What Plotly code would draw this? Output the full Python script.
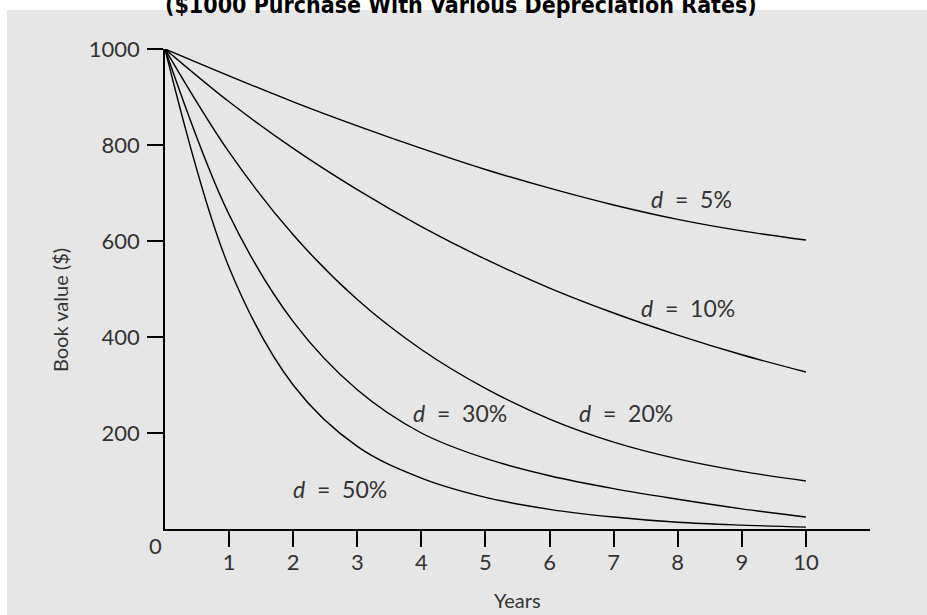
import plotly.graph_objects as go

# ---- data ----
years = [0, 1, 2, 3, 4, 5, 6, 7, 8, 9, 10]
value_d5 = [1000, 944, 890, 840, 793, 749, 710, 675, 645, 621, 602]
value_d10 = [1000, 890, 793, 707, 630, 562, 502, 450, 404, 363, 327]
value_d20 = [1000, 785, 613, 478, 374, 293, 229, 181, 146, 120, 100]
value_d30 = [1000, 655, 432, 290, 200, 147, 111, 84, 62, 42, 25]
value_d50 = [1000, 545, 300, 172, 106, 66, 41, 25, 14, 8, 4]

series = [value_d5, value_d10, value_d20, value_d30, value_d50]

label_texts = ["<i>d</i>&nbsp; =&nbsp; 5%", "<i>d</i>&nbsp; =&nbsp; 10%", "<i>d</i>&nbsp; =&nbsp; 20%",
               "<i>d</i>&nbsp; =&nbsp; 30%", "<i>d</i>&nbsp; =&nbsp; 50%"]
label_x = [8.22, 8.16, 7.19, 4.60, 2.73]
label_y = [687, 460, 242, 242, 83]

x_ticks = [1, 2, 3, 4, 5, 6, 7, 8, 9, 10]
y_ticks = [200, 400, 600, 800, 1000]

title_text = "<b>($1000 Purchase With Various Depreciation Rates)</b>"

FONT = "Lato, 'Open Sans', sans-serif"
TXT = "#333333"

fig = go.Figure()
for vals in series:
    fig.add_trace(go.Scatter(
        x=years, y=vals, mode="lines",
        line=dict(color="black", width=1.4, shape="spline", smoothing=1.0),
        showlegend=False, hoverinfo="skip", cliponaxis=False,
    ))

# gray panel background
fig.add_shape(type="rect", xref="paper", yref="paper",
              x0=(7 - 165) / 705, x1=(940 - 165) / 705,
              y0=(529 - 640) / 480, y1=(529 - 10) / 480,
              fillcolor="#e6e6e6", line=dict(width=0), layer="below")

for t, x, y in zip(label_texts, label_x, label_y):
    fig.add_annotation(x=x, y=y, text=t, showarrow=False,
                       font=dict(family=FONT, size=23, color=TXT),
                       xanchor="center", yanchor="middle")

# origin "0" label
fig.add_annotation(xref="paper", yref="paper", x=(155 - 165) / 705, y=(529 - 545) / 480,
                   text="0", showarrow=False, font=dict(family=FONT, size=22, color=TXT),
                   xanchor="center", yanchor="middle")
# axis titles
fig.add_annotation(xref="paper", yref="paper", x=0.5, y=(529 - 600) / 480,
                   text="Years", showarrow=False, font=dict(family=FONT, size=20, color=TXT),
                   xanchor="center", yanchor="middle")
fig.add_annotation(xref="paper", yref="paper", x=(60 - 165) / 705, y=(529 - 310) / 480,
                   text="Book value ($)", showarrow=False, textangle=-90,
                   font=dict(family=FONT, size=20, color=TXT),
                   xanchor="center", yanchor="middle")
# title (partly cut off at the top, as in the reference)
fig.add_annotation(xref="paper", yref="paper", x=(461 - 165) / 705, y=(529 - 20) / 480,
                   text=title_text, showarrow=False,
                   font=dict(family="'DejaVu Sans Condensed', 'Liberation Sans', sans-serif",
                             size=23, color="black"),
                   xanchor="center", yanchor="bottom")

fig.update_xaxes(range=[0, 11], tickvals=x_ticks, ticktext=[str(v) for v in x_ticks],
                 showline=True, linecolor="black", linewidth=1.5,
                 ticks="outside", ticklen=16, tickwidth=1.5, tickcolor="black",
                 showgrid=False, zeroline=False,
                 tickfont=dict(family=FONT, size=22, color=TXT), ticklabelstandoff=-3)
fig.update_yaxes(range=[0, 1000], tickvals=y_ticks, ticktext=[str(v) for v in y_ticks],
                 showline=True, linecolor="black", linewidth=1.5,
                 ticks="outside", ticklen=16, tickwidth=1.5, tickcolor="black",
                 showgrid=False, zeroline=False,
                 tickfont=dict(family=FONT, size=22, color=TXT), ticklabelstandoff=3)

fig.update_layout(width=927, height=615, autosize=False,
                  margin=dict(l=165, r=57, t=49, b=86),
                  paper_bgcolor="white", plot_bgcolor="rgba(0,0,0,0)",
                  showlegend=False)

fig.write_html("out.html", config={"displayModeBar": False},
               post_script="document.body.style.margin='0';document.body.style.padding='0';")
